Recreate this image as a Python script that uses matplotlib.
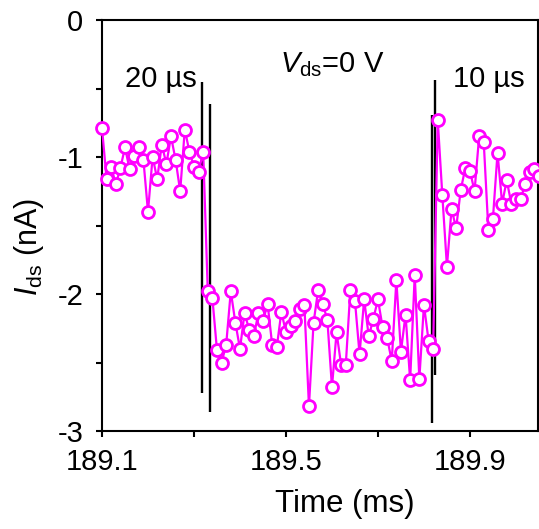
import matplotlib
matplotlib.use('Agg')
import matplotlib.pyplot as plt
from matplotlib.ticker import FixedLocator

plt.rcParams.update({
    'font.family': ['Liberation Sans', 'DejaVu Sans'],
    'mathtext.fontset': 'custom',
    'mathtext.rm': 'Liberation Sans',
    'mathtext.it': 'Liberation Sans:italic',
    'axes.unicode_minus': False,
})

MAGENTA = '#FF00FF'

# sampled current trace (ms, nA)
time_ms = [
    189.10, 189.11, 189.12, 189.13, 189.14, 189.15, 189.16, 189.17, 189.18, 189.19,
    189.20, 189.21, 189.22, 189.23, 189.24, 189.25, 189.26, 189.27, 189.28, 189.29,
    189.30, 189.31, 189.32, 189.33, 189.34, 189.35, 189.36, 189.37, 189.38, 189.39,
    189.40, 189.41, 189.42, 189.43, 189.44, 189.45, 189.46, 189.47, 189.48, 189.49,
    189.50, 189.51, 189.52, 189.53, 189.54, 189.55, 189.56, 189.57, 189.58, 189.59,
    189.60, 189.61, 189.62, 189.63, 189.64, 189.65, 189.66, 189.67, 189.68, 189.69,
    189.70, 189.71, 189.72, 189.73, 189.74, 189.75, 189.76, 189.77, 189.78, 189.79,
    189.80, 189.81, 189.82, 189.83, 189.84, 189.85, 189.86, 189.87, 189.88, 189.89,
    189.90, 189.91, 189.92, 189.93, 189.94, 189.95, 189.96, 189.97, 189.98, 189.99,
    190.00, 190.01, 190.02, 190.03, 190.04, 190.05,
]
current_na = [
    -0.79, -1.16, -1.07, -1.20, -1.08, -0.93, -1.09, -0.99, -0.93, -1.02,
    -1.40, -1.00, -1.16, -0.91, -1.05, -0.85, -1.02, -1.25, -0.80, -0.96,
    -1.07, -1.11, -0.96, -1.98, -2.03, -2.41, -2.50, -2.37, -1.98, -2.21,
    -2.40, -2.14, -2.26, -2.31, -2.14, -2.20, -2.07, -2.37, -2.39, -2.13,
    -2.28, -2.23, -2.20, -2.11, -2.08, -2.82, -2.21, -1.97, -2.07, -2.19,
    -2.68, -2.28, -2.52, -2.52, -1.97, -2.05, -2.44, -2.04, -2.31, -2.18,
    -2.04, -2.24, -2.32, -2.49, -1.90, -2.42, -2.15, -2.63, -1.86, -2.62,
    -2.08, -2.34, -2.40, -0.73, -1.28, -1.80, -1.38, -1.52, -1.24, -1.08,
    -1.10, -1.25, -0.85, -0.89, -1.53, -1.45, -0.97, -1.34, -1.17, -1.34,
    -1.31, -1.31, -1.20, -1.11, -1.09, -1.14,
]

# vertical marker lines bracketing the transitions
edge_times = [189.318, 189.335, 189.817, 189.825]
edge_low = [-2.72, -2.86, -2.94, -2.59]
edge_high = [-0.45, -0.61, -0.69, -0.44]

x_major = [189.1, 189.5, 189.9]
x_minor = [189.3, 189.7]
y_major = [0, -1, -2, -3]
y_minor = [-0.5, -1.5, -2.5]

fig = plt.figure(figsize=(5.39, 5.29), dpi=100)
ax = fig.add_axes([102 / 539, 98 / 529, 436 / 539, 411 / 529])

ax.vlines(edge_times, edge_low, edge_high, colors='black', linewidth=1.7, zorder=2)
ax.plot(time_ms, current_na, '-o', color=MAGENTA, linewidth=1.6,
        markersize=8.6, markerfacecolor='white', markeredgecolor=MAGENTA,
        markeredgewidth=2.0, clip_on=False, zorder=3)

ax.set_xlim(189.1, 190.048)
ax.set_ylim(-3, 0)
ax.xaxis.set_major_locator(FixedLocator(x_major))
ax.xaxis.set_minor_locator(FixedLocator(x_minor))
ax.yaxis.set_major_locator(FixedLocator(y_major))
ax.yaxis.set_minor_locator(FixedLocator(y_minor))
ax.set_xticklabels(['189.1', '189.5', '189.9'])
ax.set_yticklabels(['0', '-1', '-2', '-3'])

for s in ax.spines.values():
    s.set_linewidth(1.5)
ax.tick_params(which='both', direction='out', length=4.5, width=1.5)
ax.tick_params(which='major', labelsize=21)
ax.tick_params(axis='y', which='major', pad=9)
ax.tick_params(axis='x', which='major', pad=8)

ax.set_xlabel('Time (ms)', fontsize=22.5)
ax.xaxis.set_label_coords(0.557, -0.14)
ax.set_ylabel(r'$I_{\mathrm{ds}}$ (nA)', fontsize=22)
ax.yaxis.set_label_coords(-0.128, 0.448)

ax.text(0.053, 0.837, '20 µs', transform=ax.transAxes, fontsize=21,
        ha='left', va='baseline')
ax.text(0.805, 0.837, '10 µs', transform=ax.transAxes, fontsize=21,
        ha='left', va='baseline')
ax.text(0.408, 0.873, r'$V_{\mathrm{ds}}$=0 V', transform=ax.transAxes,
        fontsize=21, ha='left', va='baseline')

fig.savefig('out.png', dpi=100, facecolor='white')
